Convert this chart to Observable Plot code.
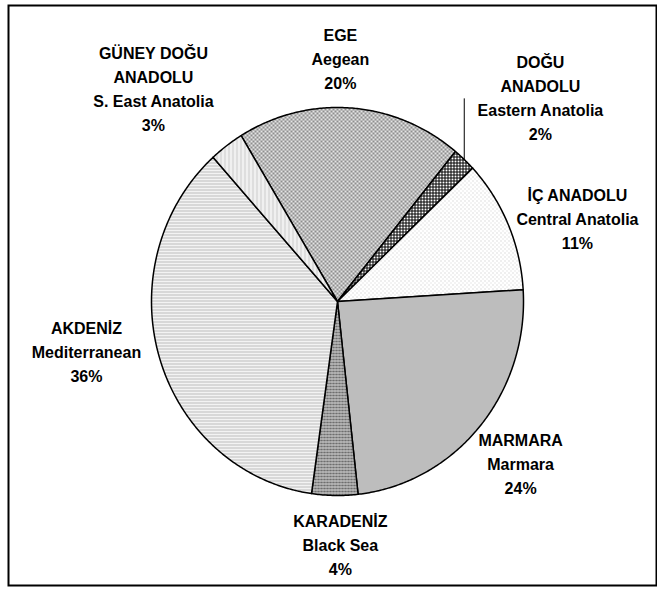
<!DOCTYPE html>
<html><head><meta charset="utf-8">
<script src="https://cdn.jsdelivr.net/npm/d3@7"></script>
<script src="https://cdn.jsdelivr.net/npm/@observablehq/plot@0.6"></script>
<style>body{margin:0;background:#fff}</style>
</head><body><div id="chart"></div>
<script>
// ---- data ----
const regionsTr = ["EGE", "DOĞU\nANADOLU", "İÇ ANADOLU", "MARMARA", "KARADENİZ", "AKDENİZ", "GÜNEY DOĞU\nANADOLU"];
const regionsEn = ["Aegean", "Eastern Anatolia", "Central Anatolia", "Marmara", "Black Sea", "Mediterranean", "S. East Anatolia"];
const shares = [19.6, 2.0, 11.1, 24.2, 4.0, 36.1, 3.0];
const patternIds = ["p-ege", "p-dogu", "p-ic", "p-marmara", "p-karadeniz", "p-akdeniz", "p-guney"];
// label layout (polar, in pie radii / degrees clockwise from 12 o'clock)
const labelAngle = [0.7, 45.9, 71.4, 130.1, 179.3, 259.4, 318.1];
const labelRadius = [1.258, 1.519, 1.361, 1.287, 1.247, 1.373, 1.482];
const leaderFor = [1]; // slices with a leader line
const startAngle = -31.2;

// ---- layout ----
const W = 657, H = 589;
const cx = 337, cy = 301, rx = 186, ry = 194;
const mL = 8, mR = 1, mT = 5, mB = 4;

const total = d3.sum(shares);
let acc = startAngle;
const slices = shares.map((v, i) => {
  const a0 = acc, a1 = acc + v / total * 360; acc = a1;
  const n = Math.max(2, Math.ceil((a1 - a0) / 0.5));
  const pts = [{x: 0, y: 0}];
  for (let k = 0; k <= n; k++) {
    const a = (a0 + (a1 - a0) * k / n) * Math.PI / 180;
    pts.push({x: Math.sin(a), y: Math.cos(a)});
  }
  pts.push({x: 0, y: 0});
  return {i, a0, a1, mid: (a0 + a1) / 2, pts, pid: patternIds[i]};
});

const labels = shares.map((v, i) => {
  const a = labelAngle[i] * Math.PI / 180;
  return {
    x: labelRadius[i] * Math.sin(a),
    y: labelRadius[i] * Math.cos(a),
    text: regionsTr[i] + "\n" + regionsEn[i] + "\n" + Math.round(v / total * 100) + "%"
  };
});

const leaders = leaderFor.map(i => {
  const m = slices[i].mid * Math.PI / 180;
  return {x1: Math.sin(m), y1: Math.cos(m), x2: Math.sin(m), y2: labels[i].y - 0.01};
});

const svg = Plot.plot({
  width: W, height: H,
  marginLeft: mL, marginRight: mR, marginTop: mT, marginBottom: mB,
  x: {domain: [(mL - cx) / rx, (W - mR - cx) / rx], axis: null},
  y: {domain: [-(H - mB - cy) / ry, (cy - mT) / ry], axis: null},
  style: {background: "white"},
  marks: [
    ...slices.map(s => Plot.line(s.pts, {
      x: "x", y: "y", fill: `url(#${s.pid})`, stroke: "black",
      strokeWidth: 1.5, strokeLinejoin: "round"
    })),
    Plot.link(leaders, {x1: "x1", y1: "y1", x2: "x2", y2: "y2", stroke: "black", strokeWidth: 1}),
    Plot.text(labels, {
      x: "x", y: "y", text: "text", fill: "black",
      fontFamily: "'Liberation Sans', Arial, sans-serif", fontWeight: "bold", fontSize: 16,
      lineHeight: 1.5, textAnchor: "middle", lineAnchor: "middle"
    }),
    Plot.frame({stroke: "black", strokeWidth: 2})
  ]
});

const defs = `
<pattern id="p-ege" patternUnits="userSpaceOnUse" width="4" height="4">
  <rect width="4" height="4" fill="#e4e4e4"/><rect width="2" height="2" fill="#8e8e8e"/><rect x="2" y="2" width="2" height="2" fill="#8e8e8e"/>
</pattern>
<pattern id="p-dogu" patternUnits="userSpaceOnUse" width="3" height="3">
  <rect width="3" height="3" fill="#ffffff"/><rect width="3" height="1" fill="#000"/><rect width="1" height="3" fill="#000"/>
</pattern>
<pattern id="p-ic" patternUnits="userSpaceOnUse" width="4" height="4">
  <rect width="4" height="4" fill="#ffffff"/><rect width="1" height="1" fill="#bdbdbd"/><rect x="2" y="2" width="1" height="1" fill="#d0d0d0"/>
</pattern>
<pattern id="p-marmara" patternUnits="userSpaceOnUse" width="2" height="2">
  <rect width="2" height="2" fill="#cfcfcf"/><rect width="1" height="1" fill="#aaaaaa"/><rect x="1" y="1" width="1" height="1" fill="#aaaaaa"/>
</pattern>
<pattern id="p-karadeniz" patternUnits="userSpaceOnUse" width="3" height="3">
  <rect width="3" height="3" fill="#6e6e6e"/><rect width="3" height="1" fill="#d8d8d8"/><rect x="1" y="1" width="1" height="2" fill="#a0a0a0"/>
</pattern>
<pattern id="p-akdeniz" patternUnits="userSpaceOnUse" width="4" height="3">
  <rect width="4" height="3" fill="#f3f3f3"/><rect width="4" height="1" fill="#bdbdbd"/>
</pattern>
<pattern id="p-guney" patternUnits="userSpaceOnUse" width="4" height="2">
  <rect width="4" height="2" fill="#f6f6f6"/><rect width="1" height="2" fill="#c6c6c6"/><rect x="2" width="1" height="1" fill="#dcdcdc"/>
</pattern>`;
const d = document.createElementNS("http://www.w3.org/2000/svg", "defs");
d.innerHTML = defs;
svg.insertBefore(d, svg.firstChild);
document.getElementById("chart").appendChild(svg);
</script>
</body></html>
